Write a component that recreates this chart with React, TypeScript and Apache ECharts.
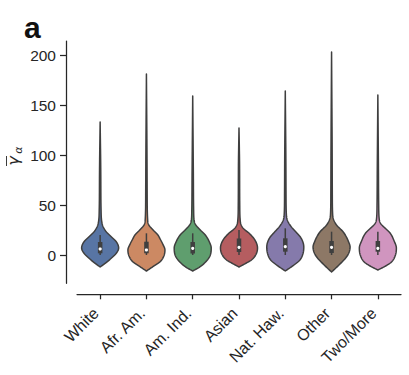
import React, { useEffect, useRef } from 'react';
import * as echarts from 'echarts';

const categories = ['White', 'Afr. Am.', 'Am. Ind.', 'Asian', 'Nat. Haw.', 'Other', 'Two/More'];
const violinColors = ['#5875a4', '#cc8963', '#5f9e6e', '#b55d60', '#857aab', '#8d7866', '#d095bf'];
const yTicks = [0, 50, 100, 150, 200];

// violin outlines: [value, half-width as a fraction of the widest point]
const whiteProfile = [[-12, 0], [-8.3, 0.27], [-3.3, 0.6], [1.7, 0.87], [7, 1], [13.3, 0.87], [18.3, 0.6], [23.3, 0.33], [28.3, 0.16], [33, 0.09], [45, 0.05], [80, 0.035], [133, 0]];
const afrAmProfile = [[-16, 0], [-11.7, 0.35], [-6.7, 0.74], [-1, 0.94], [5, 1], [11, 0.88], [16, 0.74], [20, 0.62], [25, 0.36], [30, 0.13], [34, 0.07], [60, 0.04], [100, 0.03], [181, 0]];
const amIndProfile = [[-16, 0], [-12, 0.38], [-6.7, 0.71], [-1, 0.93], [7, 1], [13, 0.9], [20, 0.68], [25, 0.41], [30, 0.17], [34, 0.08], [45, 0.05], [80, 0.035], [159, 0]];
const asianProfile = [[-12, 0], [-8, 0.4], [-5, 0.67], [0, 0.9], [7, 1], [15, 0.86], [21.7, 0.55], [26.7, 0.23], [31, 0.1], [36, 0.06], [50, 0.04], [90, 0.03], [127, 0]];
const natHawProfile = [[-16, 0], [-10, 0.47], [-5, 0.79], [1, 0.95], [8, 1], [16.7, 0.86], [21.7, 0.64], [28.3, 0.32], [34, 0.13], [40, 0.06], [60, 0.04], [100, 0.03], [164, 0]];
const otherProfile = [[-17, 0], [-10, 0.4], [-3, 0.76], [2, 0.93], [8, 1], [14, 0.9], [18, 0.8], [23, 0.63], [30, 0.27], [35, 0.12], [40, 0.06], [60, 0.04], [110, 0.03], [203, 0]];
const twoMoreProfile = [[-15, 0], [-11, 0.42], [-6.7, 0.75], [0, 0.95], [7, 1], [14, 0.88], [21.7, 0.67], [26.7, 0.4], [31, 0.17], [35, 0.08], [50, 0.045], [90, 0.03], [160, 0]];
const profiles = [whiteProfile, afrAmProfile, amIndProfile, asianProfile, natHawProfile, otherProfile, twoMoreProfile];

// inner box statistics
const whiskerLow = [0, 0, 0, 0, 0, 0, 0];
const q1 = [1.7, 1.7, 1.5, 3, 3.3, 2, 3.3];
const medians = [6, 5, 6.7, 7.7, 8.3, 7.7, 6.7];
const q3 = [13, 13.3, 13, 16.5, 16.7, 14, 14];
const whiskerHigh = [20, 21.7, 21.7, 25, 26.7, 23.3, 23.3];

const FONT = '"Liberation Sans", Arial, sans-serif';
const INK = '#262626';
const EDGE = '#3f3f3f';

function monotone(xs: number[], ys: number[]) {
  const n = xs.length;
  const d: number[] = [];
  for (let k = 0; k < n - 1; k++) d.push((ys[k + 1] - ys[k]) / (xs[k + 1] - xs[k]));
  const m: number[] = new Array(n).fill(0);
  m[0] = d[0];
  m[n - 1] = d[n - 2];
  for (let k = 1; k < n - 1; k++) m[k] = d[k - 1] * d[k] <= 0 ? 0 : (d[k - 1] + d[k]) / 2;
  for (let k = 0; k < n - 1; k++) {
    if (d[k] === 0) { m[k] = 0; m[k + 1] = 0; continue; }
    const a = m[k] / d[k];
    const b = m[k + 1] / d[k];
    const s = a * a + b * b;
    if (s > 9) {
      const t = 3 / Math.sqrt(s);
      m[k] = t * a * d[k];
      m[k + 1] = t * b * d[k];
    }
  }
  return (x: number) => {
    let k = 0;
    while (k < n - 2 && x > xs[k + 1]) k++;
    const h = xs[k + 1] - xs[k];
    const t = (x - xs[k]) / h;
    const t2 = t * t, t3 = t2 * t;
    return (2 * t3 - 3 * t2 + 1) * ys[k] + (t3 - 2 * t2 + t) * h * m[k] + (-2 * t3 + 3 * t2) * ys[k + 1] + (t3 - t2) * h * m[k + 1];
  };
}

export default function App() {
  const ref = useRef<HTMLDivElement>(null);
  useEffect(() => {
    if (!ref.current) return;
    const chart = echarts.init(ref.current, undefined, { renderer: 'svg' });
    const option: any = {
      animation: false,
      backgroundColor: '#ffffff',
      grid: { left: 77, right: 8, top: 41, bottom: 91.7, containLabel: false },
      xAxis: {
        type: 'category',
        data: categories,
        boundaryGap: true,
        offset: 11,
        axisLine: { show: true, onZero: false, lineStyle: { color: INK, width: 1.25 } },
        axisTick: { show: true, alignWithLabel: true, length: 5, lineStyle: { color: INK, width: 1.25 } },
        axisLabel: { rotate: 45, interval: 0, margin: 12, padding: [0, 6, 0, 0], fontSize: 16, color: INK, fontFamily: FONT, hideOverlap: false },
        splitLine: { show: false },
      },
      yAxis: {
        type: 'value',
        min: -28.3,
        max: 214,
        offset: 11,
        axisLine: { show: true, onZero: false, lineStyle: { color: INK, width: 1.25 } },
        axisTick: { show: true, length: 6, customValues: yTicks, lineStyle: { color: INK, width: 1.25 } },
        axisLabel: { customValues: yTicks, margin: 10, fontSize: 15.5, color: INK, fontFamily: FONT },
        splitLine: { show: false },
      },
      graphic: [
        { type: 'text', left: 24, top: 12, style: { text: 'a', fontSize: 30, fontWeight: 'bold', fontFamily: FONT, fill: '#111' } },
        {
          type: 'group', x: 18, y: 161, rotation: Math.PI / 2,
          children: [
            { type: 'text', x: 0, y: -4.5, style: { text: 'γ', fontSize: 16, fontStyle: 'italic', fontFamily: '"DejaVu Sans", sans-serif', fill: INK, align: 'center', verticalAlign: 'middle' } },
            { type: 'text', x: 11, y: 0.5, style: { text: 'α', fontSize: 11, fontStyle: 'italic', fontFamily: '"DejaVu Sans", sans-serif', fill: INK, align: 'center', verticalAlign: 'middle' } },
            { type: 'line', shape: { x1: -5, y1: -11.5, x2: 5, y2: -11.5 }, style: { stroke: INK, lineWidth: 0.9 } },
          ],
        },
      ],
      series: [
        {
          type: 'custom',
          encode: { x: 0, y: 1 },
          data: categories.map((_, i) => [i, 0]),
          renderItem: (params: any, api: any) => {
            const i = api.value(0);
            const prof = profiles[i];
            const band = api.size([1, 0])[0];
            const maxHalf = band * 0.4;
            const cx = api.coord([i, 0])[0];
            const xs = prof.map((p) => p[0]);
            const f = monotone(xs, prof.map((p) => p[1]));
            const samples: number[] = [];
            for (let k = 0; k < xs.length - 1; k++) {
              const steps = 10;
              for (let s = 0; s < steps; s++) samples.push(xs[k] + ((xs[k + 1] - xs[k]) * s) / steps);
            }
            samples.push(xs[xs.length - 1]);
            const right = samples.map((v) => [cx + Math.max(0, f(v)) * maxHalf, api.coord([i, v])[1]]);
            const left = samples.slice().reverse().map((v) => [cx - Math.max(0, f(v)) * maxHalf, api.coord([i, v])[1]]);
            const yq1 = api.coord([i, q1[i]])[1];
            const yq3 = api.coord([i, q3[i]])[1];
            return {
              type: 'group',
              children: [
                { type: 'polygon', shape: { points: right.concat(left) }, style: { fill: violinColors[i], stroke: EDGE, lineWidth: 1.5, lineJoin: 'round' } },
                { type: 'line', shape: { x1: cx, y1: api.coord([i, whiskerLow[i]])[1], x2: cx, y2: api.coord([i, whiskerHigh[i]])[1] }, style: { stroke: EDGE, lineWidth: 1.5 } },
                { type: 'rect', shape: { x: cx - 2.25, y: yq3, width: 4.5, height: yq1 - yq3 }, style: { fill: EDGE } },
                { type: 'circle', shape: { cx, cy: api.coord([i, medians[i]])[1], r: 1.6 }, style: { fill: '#ffffff' } },
              ],
            };
          },
        },
      ],
    };
    chart.setOption(option);
    return () => chart.dispose();
  }, []);
  return <div ref={ref} style={{ position: 'fixed', left: 0, top: 0, width: 409, height: 375 }} />;
}
